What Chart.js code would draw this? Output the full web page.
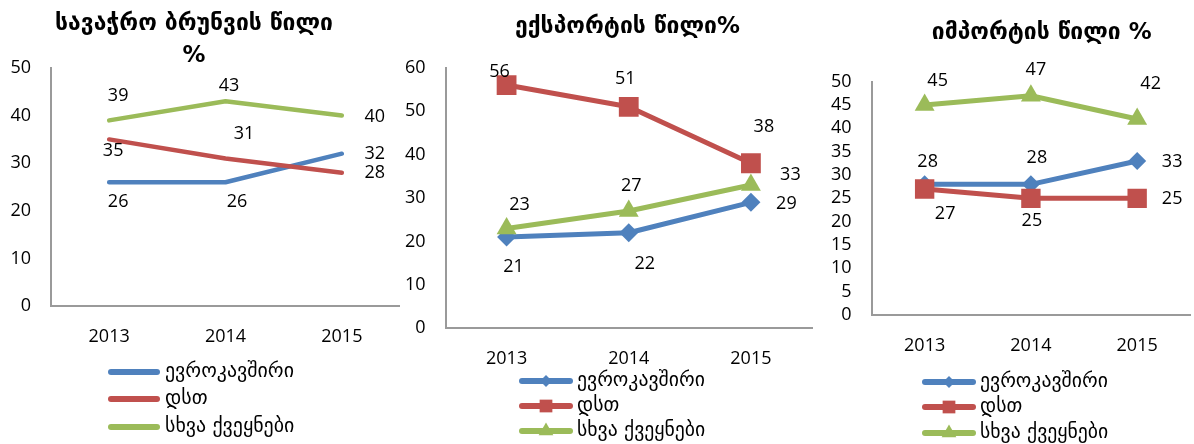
<!DOCTYPE html>
<html><head><meta charset="utf-8">
<script src="https://cdn.jsdelivr.net/npm/chart.js"></script>
<style>
html,body{margin:0;padding:0;background:#fff;overflow:hidden}
#wrap{position:relative;width:1194px;height:444px;overflow:hidden;background:#fff}
canvas{position:absolute;top:0}
</style></head><body>
<div id="wrap">
<canvas id="c1" width="400" height="444" style="left:0px"></canvas>
<canvas id="c2" width="426" height="444" style="left:400px"></canvas>
<canvas id="c3" width="379" height="444" style="left:825px"></canvas>
</div>
<script>
// ---------- data ----------
const years = ['2013', '2014', '2015'];
const seriesNames = ['ევროკავშირი', 'დსთ', 'სხვა ქვეყნები'];

const tradeEU = [26, 26, 32];
const tradeCIS = [35, 31, 28];
const tradeOther = [39, 43, 40];

const exportEU = [21, 22, 29];
const exportCIS = [56, 51, 38];
const exportOther = [23, 27, 33];

const importEU = [28, 28, 33];
const importCIS = [27, 25, 25];
const importOther = [45, 47, 42];

const titleTrade = ['სავაჭრო ბრუნვის წილი', '%'];
const titleExport = ['ექსპორტის წილი%'];
const titleImport = ['იმპორტის წილი %'];

const yAxisTrade = [0, 50, 10];   // min, max, step
const yAxisExport = [0, 60, 10];
const yAxisImport = [0, 50, 5];

// ---------- styles ----------
const COLORS = ['#4F81BD', '#C0504D', '#9BBB59'];
const MARKERS = ['rectRot', 'rect', 'triangle'];
const AXIS = '#9a9a9a';
const FONT_NUM = '"Open Sans", "DejaVu Sans", sans-serif';
const FONT_GEO = '"DejaVu Sans", sans-serif';

function drawMarker(ctx, style, x, y, r) {
  ctx.beginPath();
  if (style === 'rectRot') {
    ctx.moveTo(x, y - r); ctx.lineTo(x + r, y); ctx.lineTo(x, y + r); ctx.lineTo(x - r, y);
  } else if (style === 'rect') {
    const s = r * Math.SQRT1_2; ctx.rect(x - s, y - s, 2 * s, 2 * s);
  } else {
    ctx.moveTo(x, y - r);
    ctx.lineTo(x + r * Math.sin(2 * Math.PI / 3), y - r * Math.cos(2 * Math.PI / 3));
    ctx.lineTo(x + r * Math.sin(4 * Math.PI / 3), y - r * Math.cos(4 * Math.PI / 3));
  }
  ctx.closePath(); ctx.fill();
}

function fitSize(ctx, text, weight, family, target) {
  ctx.font = weight + ' 20px ' + family;
  return 20 * target / ctx.measureText(text).width;
}

function makeDecor(cfg) {
  return {
    id: 'decor',
    afterDatasetsDraw(chart) {
      const ctx = chart.ctx;
      ctx.save();
      ctx.fillStyle = '#000';
      ctx.textAlign = 'center';
      ctx.textBaseline = 'middle';
      // data labels
      ctx.font = '18px ' + FONT_NUM;
      chart.data.datasets.forEach((ds, i) => {
        const meta = chart.getDatasetMeta(i);
        meta.data.forEach((pt, j) => {
          const off = cfg.labelOffsets[i][j];
          ctx.fillText(String(ds.data[j]), pt.x + off[0], pt.y + off[1]);
        });
      });
      // title
      const ts = fitSize(ctx, cfg.title[0], 'bold', FONT_GEO, cfg.titleWidth);
      ctx.font = 'bold ' + ts + 'px ' + FONT_GEO;
      cfg.title.forEach((line, k) => ctx.fillText(line, cfg.titleX, cfg.titleY[k]));
      // legend
      const ls = fitSize(ctx, seriesNames[0], 'normal', FONT_GEO, cfg.legendTextWidth);
      chart.data.datasets.forEach((ds, i) => {
        const y = cfg.legendY[i];
        ctx.strokeStyle = ds.borderColor;
        ctx.lineWidth = 6;
        ctx.lineCap = 'round';
        ctx.beginPath();
        ctx.moveTo(cfg.legendX[0] + 3, y);
        ctx.lineTo(cfg.legendX[1] - 3, y);
        ctx.stroke();
        if (cfg.markers) {
          ctx.fillStyle = ds.borderColor;
          drawMarker(ctx, MARKERS[i], (cfg.legendX[0] + cfg.legendX[1]) / 2, y, cfg.legendMarkerR[i]);
        }
        ctx.fillStyle = '#000';
        ctx.textAlign = 'left';
        ctx.font = ls + 'px ' + FONT_GEO;
        ctx.fillText(ds.label, cfg.legendTextX, y);
      });
      ctx.restore();
    }
  };
}

function makeChart(id, cfg) {
  const datasets = cfg.series.map((d, i) => ({
    label: seriesNames[i],
    data: d,
    order: 2 - i,
    borderColor: COLORS[i],
    backgroundColor: COLORS[i],
    pointBackgroundColor: COLORS[i],
    pointBorderColor: COLORS[i],
    borderWidth: cfg.lineWidth,
    pointStyle: cfg.markers ? MARKERS[i] : false,
    pointRadius: cfg.markers ? cfg.markerR[i] : 0,
    pointBorderWidth: 0,
    tension: 0,
    borderCapStyle: 'round',
    borderJoinStyle: 'round',
    fill: false
  }));
  return new Chart(document.getElementById(id), {
    type: 'line',
    data: { labels: years, datasets },
    options: {
      responsive: false,
      animation: false,
      events: [],
      layout: { padding: cfg.padding },
      plugins: { legend: { display: false }, title: { display: false }, tooltip: { enabled: false } },
      scales: {
        x: {
          offset: true,
          grid: { display: false, drawTicks: false },
          border: { display: true, color: AXIS, width: 2 },
          ticks: { color: '#000', font: { family: FONT_NUM, size: 18 }, padding: cfg.xPad, maxRotation: 0, autoSkip: false },
          afterFit: s => { s.height = cfg.xH; }
        },
        y: {
          min: cfg.yAxis[0], max: cfg.yAxis[1],
          grid: { display: false, drawTicks: false },
          border: { display: true, color: AXIS, width: 2 },
          ticks: { stepSize: cfg.yAxis[2], color: '#000', font: { family: FONT_NUM, size: 18 }, padding: 20, autoSkip: false },
          afterFit: s => { s.width = cfg.yW; }
        }
      }
    },
    plugins: [makeDecor(cfg)]
  });
}

makeChart('c1', {
  series: [tradeEU, tradeCIS, tradeOther],
  yAxis: yAxisTrade,
  markers: false, lineWidth: 4.5,
  padding: { left: 0, top: 68, right: 0, bottom: 88 },
  yW: 51, xH: 50, xPad: 20,
  labelOffsets: [[[9, 20], [11.5, 20], [33, 0]], [[4, 11], [18.5, -24.5], [33, 0]], [[9, -24], [3.5, -15.5], [33, 1]]],
  title: titleTrade, titleX: 194, titleY: [24, 56], titleWidth: 278,
  legendY: [372, 399, 427], legendX: [108, 160], legendTextX: 165, legendTextWidth: 129
});

makeChart('c2', {
  series: [exportEU, exportCIS, exportOther],
  yAxis: yAxisExport,
  markers: true, lineWidth: 5, markerR: [9.5, 14, 11.5], legendMarkerR: [6, 9, 8.5],
  padding: { left: 0, top: 67.7, right: 0, bottom: 65.7 },
  yW: 45.5, xH: 50, xPad: 20,
  labelOffsets: [[[7, 29.5], [16, 31], [35.5, 1.5]], [[-7, -13.5], [-3.5, -27.5], [13, -36.5]], [[13, -23.5], [2.5, -25], [39.5, -10]]],
  title: titleExport, titleX: 227.5, titleY: [27], titleWidth: 225,
  legendY: [381, 406, 431], legendX: [119, 173], legendTextX: 177, legendTextWidth: 128
});

makeChart('c3', {
  series: [importEU, importCIS, importOther],
  yAxis: yAxisImport,
  markers: true, lineWidth: 5, markerR: [9, 13.7, 11.5], legendMarkerR: [6, 9, 8.5],
  padding: { left: 0, top: 81.7, right: 0, bottom: 79 },
  yW: 46.5, xH: 50, xPad: 20,
  labelOffsets: [[[3, -22.5], [6, -26], [35, 0.5]], [[20.5, 25], [1, 22.5], [35, 0.5]], [[13, -24.5], [5, -25.5], [13.5, -35]]],
  title: titleImport, titleX: 216.7, titleY: [33], titleWidth: 220,
  legendY: [382, 407, 433], legendX: [97, 151], legendTextX: 155, legendTextWidth: 128
});
</script>
</body></html>
